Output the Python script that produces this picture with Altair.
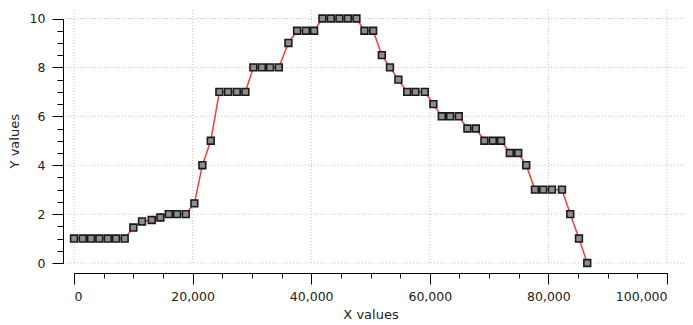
import altair as alt
import pandas as pd

x_vals = [0, 1470, 2870, 4270, 5690, 7090, 8550,
          10005, 11473, 13110, 14560, 15978, 17378, 18846,
          20297, 21647, 23064, 24515, 25983, 27450, 28901,
          30252, 31668, 33069, 34537, 36157, 37624, 39092, 40492,
          41893, 43310, 44761, 46179, 47630, 48980, 50447,
          51914, 53280, 54700, 56183, 57584, 59153, 60604,
          62021, 63422, 64889, 66340, 67757, 69208, 70626, 72026,
          73494, 74911, 76262, 77730, 79130, 80597, 82285,
          83685, 85153, 86553]
y_vals = [1, 1, 1, 1, 1, 1, 1,
          1.45, 1.7, 1.76, 1.86, 2, 2, 2,
          2.44, 4, 5, 7, 7, 7, 7,
          8, 8, 8, 8, 9, 9.5, 9.5, 9.5,
          10, 10, 10, 10, 10, 9.5, 9.5,
          8.5, 8, 7.5, 7, 7, 7, 6.5,
          6, 6, 6, 5.5, 5.5, 5, 5, 5,
          4.5, 4.5, 4, 3, 3, 3, 3,
          2, 1, 0]

x_major = [0, 20000, 40000, 60000, 80000, 100000]
x_minor = [v * 5000 for v in range(21)]
y_major = [0, 2, 4, 6, 8, 10]
y_minor = [v * 0.5 for v in range(21)]

df = pd.DataFrame({"x": x_vals, "y": y_vals})
gx = pd.DataFrame({"gx": x_major})
gy = pd.DataFrame({"gy": y_major})

W, H = 620, 255
FONT = "DejaVu Sans"

xs = alt.Scale(domain=[0, 100000], range=[9, 602], nice=False, zero=False)
ys = alt.Scale(domain=[0, 10], range=[253, 8.5], nice=False, zero=False)

grid_color = "#c4c4c4"
grid_dash = [1, 2]

vgrid = alt.Chart(gx).mark_rule(color=grid_color, strokeDash=grid_dash, strokeWidth=1).encode(
    x=alt.X("gx:Q", scale=xs, axis=None),
    y=alt.value(0), y2=alt.value(H),
)
hgrid = alt.Chart(gy).mark_rule(color=grid_color, strokeDash=grid_dash, strokeWidth=1).encode(
    y=alt.Y("gy:Q", scale=ys, axis=None),
    x=alt.value(0), x2=alt.value(W),
)

major_x_axis = alt.Axis(values=x_major, format=",d", tickSize=11, tickColor="black",
                        domainColor="black", grid=False, offset=8, labelPadding=6,
                        labelFont=FONT, labelFontSize=12.5, labelColor="#222",
                        title="X values", titleFont=FONT, titleFontSize=13,
                        titleFontWeight="normal", titleColor="#222", titlePadding=6)
major_y_axis = alt.Axis(values=y_major, format="d", tickSize=11, tickColor="black",
                        domainColor="black", grid=False, offset=2, labelPadding=7,
                        labelFont=FONT, labelFontSize=12.5, labelColor="#222",
                        title="Y values", titleFont=FONT, titleFontSize=13,
                        titleFontWeight="normal", titleColor="#222", titlePadding=8)

line = alt.Chart(df).mark_line(color="#ff3b3b", strokeWidth=1.5).encode(
    x=alt.X("x:Q", scale=xs, axis=major_x_axis),
    y=alt.Y("y:Q", scale=ys, axis=major_y_axis),
)
pts = alt.Chart(df).mark_square(size=46, fill="#8e8e8e", stroke="#1a1a1a",
                                  strokeWidth=1.6, opacity=1).encode(
    x=alt.X("x:Q", scale=xs, axis=alt.Axis(values=x_minor, tickSize=5, tickColor="black",
                                            labels=False, domain=False, grid=False,
                                            offset=8, title=None, orient="bottom")),
    y=alt.Y("y:Q", scale=ys, axis=alt.Axis(values=y_minor, tickSize=6, tickColor="black",
                                            labels=False, domain=False, grid=False,
                                            offset=2, title=None, orient="left")),
)

chart = alt.layer(vgrid, hgrid, line, pts).resolve_axis(
    x="independent", y="independent"
).properties(
    width=W, height=H,
    padding={"left": 57, "top": 2, "right": 0, "bottom": 60},
    autosize=alt.AutoSizeParams(type="none"),
).configure_view(stroke=None)

chart.save("out.html", embed_options={"renderer": "svg", "actions": False})
